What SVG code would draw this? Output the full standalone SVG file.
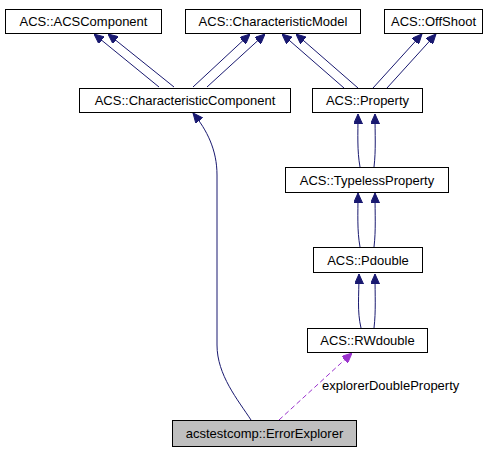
<svg xmlns="http://www.w3.org/2000/svg" width="501" height="453" viewBox="0 0 501 453">
<style>
.box{fill:#ffffff;stroke:#000000;stroke-width:1}
.lbl{font-family:"Liberation Sans",Arial,sans-serif;font-size:13px;fill:#000000;text-anchor:middle}
.e{fill:none;stroke:#191970;stroke-width:1}
.d{fill:none;stroke:#9a32cd;stroke-width:1;stroke-dasharray:5,3}
</style>
<defs>
<marker id="ab" viewBox="0 0 10 9" markerWidth="10" markerHeight="9" refX="10" refY="4.5" orient="auto" markerUnits="userSpaceOnUse">
<path d="M0,0 L10,4.5 L0,9 z" fill="#191970" stroke="#191970"/>
</marker>
<marker id="ap" viewBox="0 0 10 9" markerWidth="10" markerHeight="9" refX="10" refY="4.5" orient="auto" markerUnits="userSpaceOnUse">
<path d="M0,0 L10,4.5 L0,9 z" fill="#9a32cd" stroke="#9a32cd"/>
</marker>
</defs>
<rect width="501" height="453" fill="#ffffff"/>
<g id="connectors">
<path class="e" d="M159,87 L94,34" marker-end="url(#ab)"/>
<path class="e" d="M174,87 L108,34" marker-end="url(#ab)"/>
<path class="e" d="M193,87 L250,34" marker-end="url(#ab)"/>
<path class="e" d="M207,87 L265,34" marker-end="url(#ab)"/>
<path class="e" d="M344,88 L282,34" marker-end="url(#ab)"/>
<path class="e" d="M358,88 L296,34" marker-end="url(#ab)"/>
<path class="e" d="M373,88 L422,34" marker-end="url(#ab)"/>
<path class="e" d="M387,88 L436,34" marker-end="url(#ab)"/>
<path class="e" d="M360,167 C357,150 358,135 358,114" marker-end="url(#ab)"/>
<path class="e" d="M374,167 C376,150 375,135 375,114" marker-end="url(#ab)"/>
<path class="e" d="M360,247 C357,230 358,215 358,193" marker-end="url(#ab)"/>
<path class="e" d="M374,247 C376,230 375,215 375,193" marker-end="url(#ab)"/>
<path class="e" d="M361,328 C357,311 359,296 359,274" marker-end="url(#ab)"/>
<path class="e" d="M374,328 C376,311 375,296 375,274" marker-end="url(#ab)"/>
<path class="e" d="M251,420 C238,400 217,375 217,345 L217,175 C217,150 207,130 193,113" marker-end="url(#ab)"/>
<path class="d" d="M279,420 L352,353" marker-end="url(#ap)"/>
<text x="322" y="390" style="font-family:'Liberation Sans',Arial,sans-serif;font-size:13px;fill:#000000">explorerDoubleProperty</text>
</g>
<g id="n-acscomponent">
<rect class="box" x="5.5" y="9.5" width="156" height="24"/>
<text class="lbl" x="83.5" y="26">ACS::ACSComponent</text>
</g>
<g id="n-characteristicmodel">
<rect class="box" x="185.5" y="9.5" width="175" height="24"/>
<text class="lbl" x="273" y="26">ACS::CharacteristicModel</text>
</g>
<g id="n-offshoot">
<rect class="box" x="384.5" y="9.5" width="98" height="24"/>
<text class="lbl" x="433.5" y="26">ACS::OffShoot</text>
</g>
<g id="n-characteristiccomponent">
<rect class="box" x="79.5" y="88.5" width="211" height="24"/>
<text class="lbl" x="185" y="105">ACS::CharacteristicComponent</text>
</g>
<g id="n-property">
<rect class="box" x="312.5" y="88.5" width="110" height="24"/>
<text class="lbl" x="367.5" y="105">ACS::Property</text>
</g>
<g id="n-typelessproperty">
<rect class="box" x="285.5" y="167.5" width="163" height="25"/>
<text class="lbl" x="367" y="184.5">ACS::TypelessProperty</text>
</g>
<g id="n-pdouble">
<rect class="box" x="313.5" y="247.5" width="109" height="25"/>
<text class="lbl" x="368" y="264.5">ACS::Pdouble</text>
</g>
<g id="n-rwdouble">
<rect class="box" x="307.5" y="328.5" width="120" height="24"/>
<text class="lbl" x="367.5" y="345">ACS::RWdouble</text>
</g>
<g id="n-errorexplorer">
<rect class="box" x="172.5" y="420.5" width="184" height="26" style="fill:#bfbfbf"/>
<text class="lbl" x="264.5" y="438">acstestcomp::ErrorExplorer</text>
</g>
</svg>
